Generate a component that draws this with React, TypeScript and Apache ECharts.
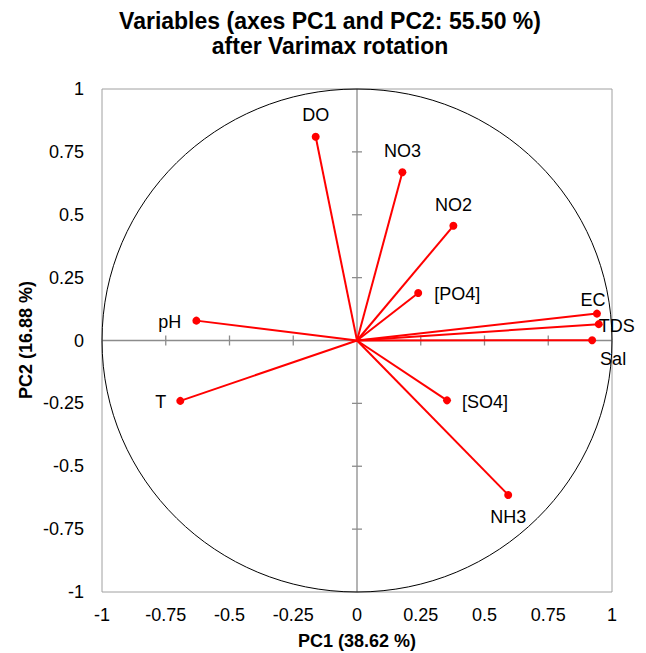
import React, { useEffect, useRef } from "react";
import * as echarts from "echarts";

const variables = ["DO", "NO3", "NO2", "[PO4]", "EC", "TDS", "Sal", "[SO4]", "NH3", "pH", "T"];
const pc1 = [-0.162, 0.178, 0.378, 0.24, 0.941, 0.948, 0.922, 0.353, 0.593, -0.63, -0.693];
const pc2 = [0.81, 0.669, 0.456, 0.189, 0.107, 0.065, 0.001, -0.238, -0.614, 0.079, -0.24];
const tickValues = [-1, -0.75, -0.5, -0.25, 0, 0.25, 0.5, 0.75, 1];

const titleLine1 = "Variables (axes PC1 and PC2: 55.50 %)";
const titleLine2 = "after Varimax rotation";
const xName = "PC1 (38.62 %)";
const yName = "PC2 (16.88 %)";

// label placement (style only)
const labelStyles: Record<string, { position: string; offset: [number, number] }> = {
  DO: { position: "top", offset: [0, -4] },
  NO3: { position: "top", offset: [0, -3.5] },
  NO2: { position: "top", offset: [0, -3] },
  "[PO4]": { position: "right", offset: [7, 1] },
  EC: { position: "top", offset: [-4, 4.5] },
  TDS: { position: "right", offset: [-9, 2] },
  Sal: { position: "bottom", offset: [21, 0.5] },
  "[SO4]": { position: "right", offset: [6, 2] },
  NH3: { position: "bottom", offset: [0, 4] },
  pH: { position: "left", offset: [-6, 1.5] },
  T: { position: "left", offset: [-5, 1] },
};

const FONT = "Liberation Sans, Arial, Helvetica, sans-serif";

export default function App() {
  const ref = useRef<HTMLDivElement>(null);
  useEffect(() => {
    document.body.style.margin = "0";
    if (!ref.current) return;
    const chart = echarts.init(ref.current, null, { renderer: "svg" });
    const points = variables.map((name, i) => ({
      name,
      value: [pc1[i], pc2[i]],
      label: {
        show: true,
        formatter: name,
        position: labelStyles[name].position,
        offset: labelStyles[name].offset,
        distance: 5,
        color: "#000",
        fontSize: 18,
        fontFamily: FONT,
      },
    }));
    const option: any = {
      animation: false,
      backgroundColor: "#fff",
      grid: {
        left: 102,
        top: 89,
        right: 34,
        bottom: 61,
        show: true,
        borderColor: "#a0a0a0",
        borderWidth: 1,
        containLabel: false,
      },
      xAxis: {
        type: "value",
        min: -1,
        max: 1,
        interval: 0.25,
        axisLine: { show: false },
        axisTick: { show: false },
        splitLine: { show: false },
        axisLabel: {
          margin: 14,
          color: "#000",
          fontSize: 18,
          fontFamily: FONT,
          showMinLabel: true,
          showMaxLabel: true,
        },
      },
      yAxis: {
        type: "value",
        min: -1,
        max: 1,
        interval: 0.25,
        axisLine: { show: false },
        axisTick: { show: false },
        splitLine: { show: false },
        axisLabel: {
          margin: 18,
          color: "#000",
          fontSize: 18,
          fontFamily: FONT,
          showMinLabel: true,
          showMaxLabel: true,
        },
      },
      graphic: [
        {
          type: "text",
          x: 330,
          y: 20.5,
          style: {
            text: titleLine1,
            font: `bold 23px ${FONT}`,
            fill: "#000",
            textAlign: "center",
            textVerticalAlign: "middle",
          },
        },
        {
          type: "text",
          x: 330,
          y: 45.5,
          style: {
            text: titleLine2,
            font: `bold 23px ${FONT}`,
            fill: "#000",
            textAlign: "center",
            textVerticalAlign: "middle",
          },
        },
        {
          type: "text",
          x: 357,
          y: 641,
          style: {
            text: xName,
            font: `bold 18px ${FONT}`,
            fill: "#000",
            textAlign: "center",
            textVerticalAlign: "middle",
          },
        },
        {
          type: "text",
          x: 26,
          y: 340,
          rotation: Math.PI / 2,
          style: {
            text: yName,
            font: `bold 18px ${FONT}`,
            fill: "#000",
            textAlign: "center",
            textVerticalAlign: "middle",
          },
        },
      ],
      series: [
        {
          type: "custom",
          silent: true,
          z: 1,
          data: [[0, 0]],
          renderItem: (params: any, api: any) => {
            const o = api.coord([0, 0]);
            const children: any[] = [];
            const axisStyle = { stroke: "#8c8c8c", lineWidth: 1.3 };
            const l = api.coord([-1, 0]);
            const r = api.coord([1, 0]);
            const t = api.coord([0, 1]);
            const b = api.coord([0, -1]);
            children.push({ type: "line", shape: { x1: l[0], y1: o[1], x2: r[0], y2: o[1] }, style: axisStyle });
            children.push({ type: "line", shape: { x1: o[0], y1: t[1], x2: o[0], y2: b[1] }, style: axisStyle });
            tickValues.forEach((v) => {
              if (v === 0 || Math.abs(v) === 1) return;
              const px = api.coord([v, 0]);
              const py = api.coord([0, v]);
              children.push({ type: "line", shape: { x1: px[0], y1: o[1] - 5, x2: px[0], y2: o[1] + 5 }, style: axisStyle });
              children.push({ type: "line", shape: { x1: o[0] - 5, y1: py[1], x2: o[0] + 5, y2: py[1] }, style: axisStyle });
            });
            const rx = api.size([1, 0])[0];
            const ry = api.size([0, 1])[1];
            children.push({
              type: "ellipse",
              shape: { cx: o[0], cy: o[1], rx, ry },
              style: { fill: "none", stroke: "#000", lineWidth: 1 },
            });
            return { type: "group", children };
          },
        },
        {
          type: "custom",
          silent: true,
          z: 2,
          data: variables.map((_, i) => [pc1[i], pc2[i]]),
          renderItem: (params: any, api: any) => {
            const o = api.coord([0, 0]);
            const p = api.coord([api.value(0), api.value(1)]);
            return {
              type: "line",
              shape: { x1: o[0], y1: o[1], x2: p[0], y2: p[1] },
              style: { stroke: "#ff0000", lineWidth: 2 },
            };
          },
        },
        {
          type: "scatter",
          z: 3,
          symbol: "circle",
          symbolSize: 8,
          itemStyle: { color: "#ff0000", opacity: 1 },
          data: points,
        },
      ],
    };
    chart.setOption(option);
    return () => chart.dispose();
  }, []);
  return <div ref={ref} style={{ width: 646, height: 653 }} />;
}
